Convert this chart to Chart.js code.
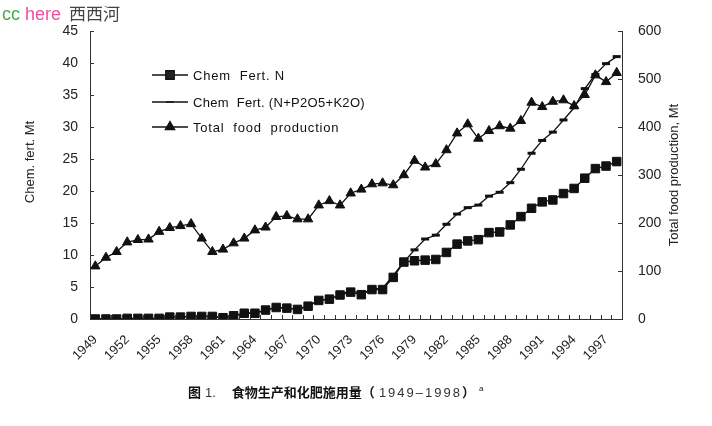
<!DOCTYPE html>
<html>
<head>
<meta charset="utf-8">
<script src="https://cdn.jsdelivr.net/npm/chart.js@4.4.1/dist/chart.umd.min.js"></script>
<style>
  body { margin: 0; background: #fff; }
  #wrap { position: relative; width: 712px; height: 426px; overflow: hidden; }
  #wrap canvas { position: absolute; left: 0; top: 0; }
  .mark { position: absolute; left: 2px; top: 0px; font-family: "Liberation Sans", Arial, sans-serif; font-size: 18px; white-space: nowrap; }
  .mark .cjk { font-family: "Noto Sans CJK SC", sans-serif; font-size: 17px; color: #444; margin-left: 3px; }
  .caption { position: absolute; left: 188px; top: 382px; white-space: nowrap; color: #111; }
  .caption b { font-family: "Noto Sans CJK SC", sans-serif; font-size: 13px; font-weight: 700; }
  .caption .thin { font-family: "Liberation Sans", Arial, sans-serif; font-size: 13px; color: #333; }
  .caption .yrs { letter-spacing: 2px; margin-left: 4px; }
  .caption sup { font-family: "Liberation Sans", Arial, sans-serif; font-size: 8px; vertical-align: 6px; }
</style>
</head>
<body>
<div id="wrap">
  <canvas id="chart" width="712" height="426"></canvas>
  <div class="mark"><span style="color:#4aa84a">cc</span> <span style="color:#f0509e">here</span> <span class="cjk">西西河</span></div>
  <div class="caption"><b>图</b> <span class="thin">1.</span>&nbsp;&nbsp;&nbsp; <b>食物生产和化肥施用量（</b><span class="thin yrs">1949–1998</span><b>）</b> <sup>a</sup></div>
</div>
<script>
// years on the x axis
const years = [
  '1949', '1950', '1951', '1952', '1953', '1954', '1955', '1956', '1957', '1958',
  '1959', '1960', '1961', '1962', '1963', '1964', '1965', '1966', '1967', '1968',
  '1969', '1970', '1971', '1972', '1973', '1974', '1975', '1976', '1977', '1978',
  '1979', '1980', '1981', '1982', '1983', '1984', '1985', '1986', '1987', '1988',
  '1989', '1990', '1991', '1992', '1993', '1994', '1995', '1996', '1997', '1998'
];
// chem fert N, Mt (left axis)
const fertN = [
  0.0, 0.0, 0.0, 0.1, 0.1, 0.1, 0.1, 0.3, 0.3, 0.4,
  0.4, 0.4, 0.2, 0.5, 0.9, 0.9, 1.4, 1.8, 1.7, 1.5,
  2.0, 2.9, 3.1, 3.75, 4.2, 3.8, 4.6, 4.6, 6.5, 8.9,
  9.1, 9.2, 9.3, 10.4, 11.7, 12.2, 12.4, 13.5, 13.6, 14.7,
  16.0, 17.3, 18.3, 18.6, 19.6, 20.4, 22.0, 23.5, 23.9, 24.6
];
// chem fert N+P2O5+K2O, Mt (left axis)
const fertNPK = [
  0.0, 0.0, 0.0, 0.1, 0.1, 0.1, 0.1, 0.3, 0.3, 0.4,
  0.4, 0.4, 0.2, 0.5, 0.9, 0.9, 1.4, 1.8, 1.7, 1.5,
  2.0, 2.9, 3.1, 3.75, 4.5, 3.9, 4.7, 4.8, 6.8, 8.9,
  10.8, 12.5, 13.1, 14.8, 16.4, 17.4, 17.8, 19.2, 19.8, 21.3,
  23.4, 25.9, 27.9, 29.2, 31.1, 33.0, 36.0, 38.2, 39.9, 41.0
];
// total food production, Mt (right axis)
const food = [
  110, 128, 140, 160, 165, 166, 182, 190, 194, 198,
  168, 140, 145, 158, 168, 185, 191, 213, 215, 208,
  208, 237, 246, 237, 262, 270, 281, 283, 279, 300,
  330, 316, 323, 352, 387, 406, 376, 392, 402, 397,
  413, 451, 442, 453, 456, 444, 467, 508, 494, 513
];
const labelEvery = 3;

const tickFont = { family: 'Liberation Sans, Arial, sans-serif', size: 14 };

// ticks pointing inward, axis titles and the legend box inside the plot
const decor = {
  id: 'decor',
  afterDraw(chart) {
    const ctx = chart.ctx;
    const a = chart.chartArea;
    const x = chart.scales.x, yl = chart.scales.y, yr = chart.scales.y2;
    ctx.save();
    ctx.strokeStyle = '#333';
    ctx.lineWidth = 1;
    ctx.beginPath();
    const half = (x.getPixelForValue(1) - x.getPixelForValue(0)) / 2;
    for (let i = 0; i <= years.length; i++) {
      const px = Math.round(x.getPixelForValue(i) - half) + 0.5;
      ctx.moveTo(px, a.bottom);
      ctx.lineTo(px, a.bottom - 4);
    }
    yl.ticks.forEach(t => {
      const py = Math.round(yl.getPixelForValue(t.value)) + 0.5;
      ctx.moveTo(a.left, py);
      ctx.lineTo(a.left + 4, py);
    });
    yr.ticks.forEach(t => {
      const py = Math.round(yr.getPixelForValue(t.value)) + 0.5;
      ctx.moveTo(a.right, py);
      ctx.lineTo(a.right - 4, py);
    });
    ctx.stroke();

    // axis titles, both reading bottom to top
    ctx.fillStyle = '#222';
    ctx.font = '13px "Liberation Sans", Arial, sans-serif';
    ctx.textAlign = 'center';
    ctx.textBaseline = 'middle';
    ctx.save();
    ctx.translate(30, a.top + 131);
    ctx.rotate(-Math.PI / 2);
    ctx.fillText('Chem. fert. Mt', 0, 0);
    ctx.restore();
    ctx.save();
    ctx.translate(a.right + 52, (a.top + a.bottom) / 2);
    ctx.rotate(-Math.PI / 2);
    ctx.fillText('Total food production, Mt', 0, 0);
    ctx.restore();

    // legend
    ctx.font = '13px "Liberation Sans", Arial, sans-serif';
    ctx.textAlign = 'left';
    const rows = [44, 71, 96];
    const spacing = ['0.8px', '0.3px', '0.8px'];
    chart.data.datasets.forEach((ds, i) => {
      const ly = a.top + rows[i];
      const x0 = a.left + 62, x1 = a.left + 98;
      ctx.strokeStyle = '#111';
      ctx.lineWidth = 1.3;
      ctx.beginPath();
      ctx.moveTo(x0, ly);
      ctx.lineTo(x1, ly);
      ctx.stroke();
      Chart.helpers.drawPoint(ctx, {
        pointStyle: ds.pointStyle,
        radius: ds.pointRadius,
        borderWidth: ds.pointBorderWidth || 1
      }, (x0 + x1) / 2, ly);
      ctx.fillStyle = '#111';
      ctx.letterSpacing = spacing[i];
      ctx.fillText(ds.label, x1 + 5, ly + 1);
    });
    ctx.restore();
  }
};

new Chart(document.getElementById('chart'), {
  type: 'line',
  data: {
    labels: years,
    datasets: [{
      label: 'Chem  Fert. N',
      data: fertN,
      yAxisID: 'y',
      borderColor: '#111',
      backgroundColor: '#111',
      borderWidth: 1.3,
      pointStyle: 'rect',
      pointRadius: 6,
      pointBorderWidth: 1
    }, {
      label: 'Chem  Fert. (N+P2O5+K2O)',
      data: fertNPK,
      yAxisID: 'y',
      borderColor: '#111',
      backgroundColor: '#111',
      borderWidth: 1.3,
      pointStyle: 'line',
      pointRadius: 4,
      pointBorderWidth: 3
    }, {
      label: 'Total  food  production',
      data: food,
      yAxisID: 'y2',
      borderColor: '#111',
      backgroundColor: '#111',
      borderWidth: 1.3,
      pointStyle: 'triangle',
      pointRadius: 5.4,
      pointBorderWidth: 1
    }]
  },
  options: {
    responsive: false,
    animation: false,
    layout: { padding: { top: 31, left: 0, right: 0, bottom: 0 } },
    plugins: { legend: { display: false }, tooltip: { enabled: false } },
    scales: {
      x: {
        type: 'category',
        offset: true,
        grid: { display: false },
        border: { display: true, color: '#333', width: 1 },
        ticks: {
          autoSkip: false,
          maxRotation: 45,
          minRotation: 45,
          padding: 5,
          color: '#222',
          font: { family: 'Liberation Sans, Arial, sans-serif', size: 13 },
          callback: (v, i) => (i % labelEvery === 0 ? years[i] : '')
        },
        afterFit: s => { s.height = 107; }
      },
      y: {
        position: 'left',
        min: 0,
        max: 45,
        grid: { display: false },
        border: { display: true, color: '#333', width: 1 },
        ticks: { stepSize: 5, padding: 4, color: '#222', font: tickFont },
        afterFit: s => { s.width = 90; }
      },
      y2: {
        position: 'right',
        min: 0,
        max: 600,
        grid: { display: false },
        border: { display: true, color: '#333', width: 1 },
        ticks: { stepSize: 100, padding: 8, color: '#222', font: tickFont },
        afterFit: s => { s.width = 90; }
      }
    }
  },
  plugins: [decor]
});
</script>
</body>
</html>
